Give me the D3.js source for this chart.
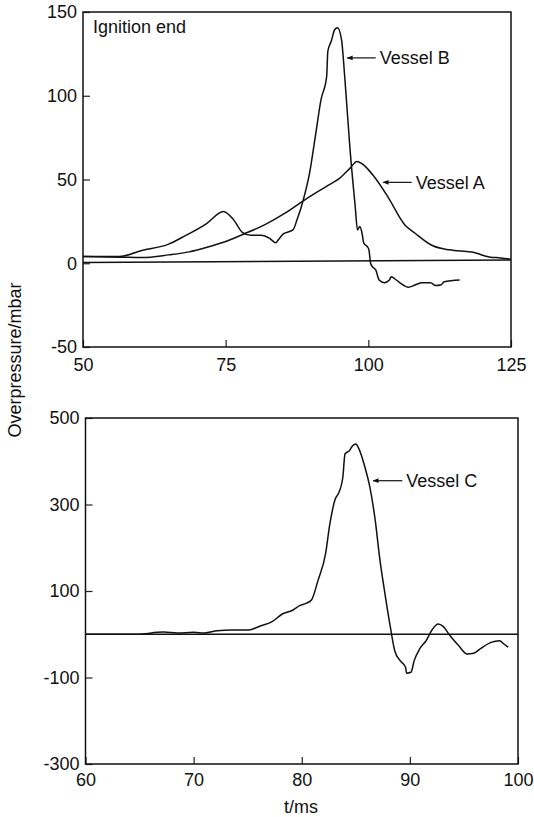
<!DOCTYPE html>
<html>
<head>
<meta charset="utf-8">
<script src="https://cdn.jsdelivr.net/npm/d3@7/dist/d3.min.js"></script>
<style>
  body { margin: 0; background: #fff; }
  svg { display: block; font-family: "Liberation Sans", Arial, Helvetica, sans-serif; }
  .curve { fill: none; stroke: #111; stroke-width: 1.5; stroke-linejoin: round; }
  .frame { fill: none; stroke: #111; stroke-width: 1.5; }
  .tick line { stroke: #222; stroke-width: 1.2; }
  .tick text { font-size: 18px; fill: #111; }
  .lbl { font-size: 18px; fill: #111; }
</style>
</head>
<body>
<svg id="chart" width="534" height="817"></svg>
<script>
// top panel: vessels A and B (t in ms, overpressure in mbar)
var tA = [50, 56.7, 60.3, 65, 68.6, 71.6, 74.6, 78.2, 81.8, 85.4, 89, 92.6, 95, 96.8, 98, 98.9,
          101, 103.4, 106.4, 108.2, 111.2, 114.2, 117.2, 118.4, 120.2, 121.4, 123.2, 125];
var pA = [4, 3.6, 3.4, 5, 6.8, 9.4, 12.5, 17.5, 22.9, 29.9, 38.2, 45.8, 50.8, 56.8, 60.8, 59.4,
          51.8, 39.8, 22.9, 17.9, 10.6, 8, 7, 6.6, 4.6, 3.6, 3.2, 2.4];

var tB = [50, 56.4, 60.3, 65, 67.4, 71.6, 74.6, 76.4, 77.9, 79.4, 81.2, 82.7, 83.8, 84.2, 85.1,
          86.8, 87.5, 88.6, 89.7, 90.8, 91.7, 92.7, 92.9, 93.5, 94.1, 94.6, 95.3, 95.9, 96.8,
          97.7, 98.1, 98.5, 98.9, 99.2, 99.8, 100.1, 100.4, 100.7, 101.3, 101.9, 102.8, 103.7,
          104, 104.9, 106.1, 107, 108.2, 109.4, 110.9, 111.8, 112.7, 113.3, 116];
var pB = [4, 4, 7.6, 11.4, 15.5, 23.5, 30.9, 25.9, 18.5, 16.7, 16.7, 14.9, 12.2, 13.9, 17.5,
          19.9, 25.9, 37.8, 53.8, 77.7, 97.6, 111.6, 126.5, 132.5, 139.4, 140.6, 133.5, 109.6, 67.7,
          33.9, 19.9, 21.9, 17.9, 12, 10, 8, 0, -2, -4, -10, -11.6, -10,
          -8, -10, -13, -14.3, -13, -11.6, -11.6, -13.3, -13, -11, -10];

var tBase1 = [50, 125];
var pBase1 = [0.4, 1.9];

// bottom panel: vessel C
var tC = [60, 64.7, 67.2, 68.5, 70, 71, 72.2, 73.5, 75.1, 76, 77.3, 78.2, 79.2, 79.8, 80.4,
          80.9, 81.5, 82.2, 82.6, 83.1, 83.4, 83.8, 84, 84.4, 84.7, 85, 85.3, 85.8, 86.3, 86.8,
          87.2, 87.7, 88.2, 88.6, 89.1, 89.6, 89.7, 90.1, 90.4, 90.9, 91.5, 92.1, 92.6, 93.1,
          93.7, 94.5, 95.3, 95.9, 96.5, 97.5, 98.3, 98.7, 99.1];
var pC = [0, 0, 5, 3, 4.4, 3, 8.3, 9.8, 9.8, 17.5, 29.9, 46.8, 56, 66, 71.5,
          79.2, 124, 185.6, 255, 312.7, 325.8, 363, 416.8, 424.5, 436, 440, 428, 390, 340, 262.6,
          177.8, 93, 16, -38, -61, -76.5, -90, -88, -61, -34, -15, 12, 23.7, 17.5,
          -3, -26, -45.7, -44, -34, -18.7, -15, -22.5, -30];

var tBase2 = [60, 100];
var pBase2 = [0, 0];

var xTicks1 = [50, 75, 100, 125];
var yTicks1 = [150, 100, 50, 0, -50];
var xTicks2 = [60, 70, 80, 90, 100];
var yTicks2 = [500, 300, 100, -100, -300];

var svg = d3.select("#chart");

var defs = svg.append("defs");
defs.append("marker")
    .attr("id", "arrow")
    .attr("viewBox", "0 0 10 10")
    .attr("refX", 9).attr("refY", 5)
    .attr("markerWidth", 7).attr("markerHeight", 5)
    .attr("orient", "auto")
  .append("path")
    .attr("d", "M0,1L10,5L0,9Z")
    .attr("fill", "#111");

function zip(ts, ps) {
    return ts.map((t, i) => [t, ps[i]]);
}

// plain hyphen minus, like the printed figure
var fmt = d => String(d);

function panel(opts) {
    var x = d3.scaleLinear().domain(opts.xDomain).range([opts.left, opts.right]);
    var y = d3.scaleLinear().domain(opts.yDomain).range([opts.bottom, opts.top]);
    var g = svg.append("g");

    var line = d3.line()
        .x(d => x(d[0]))
        .y(d => y(d[1]))
        .curve(d3.curveMonotoneX);

    g.append("path").attr("class", "curve").attr("d", d3.line().x(d => x(d[0])).y(d => y(d[1]))(opts.base));
    opts.series.forEach(function(s) {
        g.append("path").attr("class", "curve").attr("d", line(s));
    });

    g.append("g")
        .attr("transform", "translate(" + opts.left + ",0)")
        .call(d3.axisLeft(y).tickValues(opts.yTicks).tickFormat(fmt)
            .tickSize(-7).tickPadding(6))
        .call(a => a.select(".domain").remove());

    g.append("g")
        .attr("transform", "translate(0," + opts.bottom + ")")
        .call(d3.axisBottom(x).tickValues(opts.xTicks).tickFormat(fmt)
            .tickSize(-7).tickPadding(opts.xPad))
        .call(a => a.select(".domain").remove());

    g.append("rect").attr("class", "frame")
        .attr("x", opts.left).attr("y", opts.top)
        .attr("width", opts.right - opts.left)
        .attr("height", opts.bottom - opts.top);

    opts.notes.forEach(function(n) {
        g.append("line")
            .attr("x1", x(n.tail)).attr("x2", x(n.tip))
            .attr("y1", y(n.p)).attr("y2", y(n.p))
            .attr("stroke", "#111").attr("stroke-width", 1.2)
            .attr("marker-end", "url(#arrow)");
        g.append("text").attr("class", "lbl")
            .attr("x", x(n.tail) + 4).attr("y", y(n.p)).attr("dy", "0.35em")
            .text(n.text);
    });
    return g;
}

var top1 = panel({
    xDomain: [50, 125], yDomain: [-50, 150],
    left: 83, right: 511, top: 12, bottom: 347,
    xTicks: xTicks1, yTicks: yTicks1, xPad: 11,
    base: zip(tBase1, pBase1),
    series: [zip(tA, pA), zip(tB, pB)],
    notes: [
        { text: "Vessel B", tip: 96.3, tail: 101.3, p: 122.6 },
        { text: "Vessel A", tip: 102.6, tail: 107.6, p: 48.3 }
    ]
});
top1.append("text").attr("class", "lbl")
    .attr("x", 93).attr("y", 33)
    .text("Ignition end");

var bottom = panel({
    xDomain: [60, 100], yDomain: [-300, 500],
    left: 85.5, right: 518, top: 418, bottom: 764,
    xTicks: xTicks2, yTicks: yTicks2, xPad: 9,
    base: zip(tBase2, pBase2),
    series: [zip(tC, pC)],
    notes: [
        { text: "Vessel C", tip: 86.6, tail: 89.3, p: 355 }
    ]
});

svg.append("text").attr("class", "lbl")
    .attr("transform", "translate(21,360) rotate(-90)")
    .attr("text-anchor", "middle")
    .text("Overpressure/mbar");

svg.append("text").attr("class", "lbl")
    .attr("x", 301).attr("y", 813)
    .attr("text-anchor", "middle")
    .text("t/ms");
</script>
</body>
</html>
